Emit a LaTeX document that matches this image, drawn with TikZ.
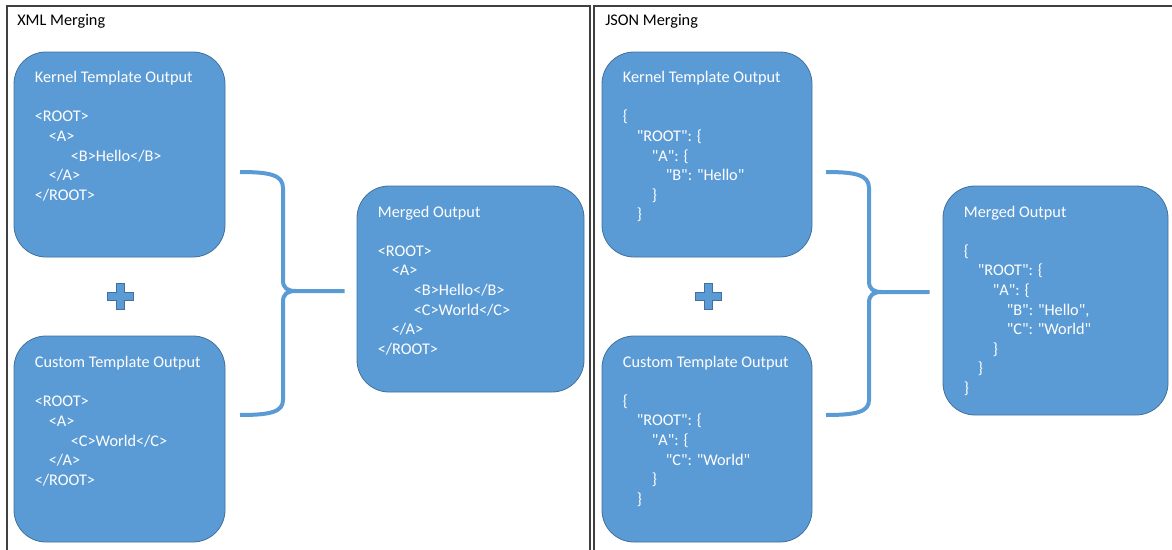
\documentclass[tikz,border=0pt]{standalone}
\usepackage{fontspec}
\setmainfont{Carlito}[Ligatures=TeXOff]
\usetikzlibrary{positioning}
\definecolor{boxblue}{HTML}{5B9BD5}
\definecolor{boxedge}{HTML}{41719C}

\begin{document}
\begin{tikzpicture}[x=0.75pt,y=-0.75pt,
  tbox/.style={draw=boxedge,fill=boxblue,rounded corners=24pt,line width=0.6pt},
  codetxt/.style={text=white,align=left,inner sep=0pt,anchor=north west,font=\fontsize{12.2}{14.7}\selectfont},
  paneltitle/.style={inner sep=0pt,anchor=base west,font=\fontsize{12.2}{14.7}\selectfont},
  frame/.style={draw=black!75,line width=1pt},
  brace/.style={draw=boxblue,line width=3pt},
  plus/.style={fill=boxblue,draw=boxedge,line width=0.5pt}]
\clip (0,0) rectangle (1172,550);
% panels
\draw[frame] (7,6) rectangle (590,570);
\draw[frame] (594,6) rectangle (1190,570);
\node[paneltitle] (xmltitle) at (17,25) {XML Merging};
\node[paneltitle] (jsontitle) at (605,25) {JSON Merging};

% XML side
\node[tbox,minimum width=158.25pt,minimum height=153.75pt] (kernxml) at (119.5,154.5) {};
\node[tbox,minimum width=158.25pt,minimum height=154.5pt] (custxml) at (119.5,439) {};
\node[tbox,minimum width=170.25pt,minimum height=154.5pt] (mergxml) at (470.5,289) {};
\node[codetxt] (kernxmltxt) at ([shift={(21,19.5)}]kernxml.north west) {Kernel Template Output\\[14.7pt]
  <ROOT>\\ \hspace*{10.5pt}<A>\\ \hspace*{27pt}<B>Hello</B>\\ \hspace*{10.5pt}</A>\\ </ROOT>};
\node[codetxt] (custxmltxt) at ([shift={(21,20.5)}]custxml.north west) {Custom Template Output\\[14.7pt]
  <ROOT>\\ \hspace*{10.5pt}<A>\\ \hspace*{27pt}<C>World</C>\\ \hspace*{10.5pt}</A>\\ </ROOT>};
\node[codetxt] (mergxmltxt) at ([shift={(21,20)}]mergxml.north west) {Merged Output\\[14.7pt]
  <ROOT>\\ \hspace*{10.5pt}<A>\\ \hspace*{27pt}<B>Hello</B>\\ \hspace*{27pt}<C>World</C>\\
  \hspace*{10.5pt}</A>\\ </ROOT>};

% JSON side
\node[tbox,minimum width=157.5pt,minimum height=153.75pt] (kernjson) at (707,154.5) {};
\node[tbox,minimum width=157.5pt,minimum height=154.5pt] (custjson) at (707,439) {};
\node[tbox,minimum width=168.75pt,minimum height=171.75pt] (mergjson) at (1055.5,300.5) {};
\node[codetxt] (kernjsontxt) at ([shift={(21,19.5)}]kernjson.north west) {Kernel Template Output\\[14.7pt]
  \{\\ \hspace*{10.5pt}"ROOT": \{\\ \hspace*{21.75pt}"A": \{\\ \hspace*{32.25pt}"B": "Hello"\\
  \hspace*{21.75pt}\}\\ \hspace*{10.5pt}\}};
\node[codetxt] (custjsontxt) at ([shift={(21,20)}]custjson.north west) {Custom Template Output\\[14.7pt]
  \{\\ \hspace*{10.5pt}"ROOT": \{\\ \hspace*{21.75pt}"A": \{\\ \hspace*{32.25pt}"C": "World"\\
  \hspace*{21.75pt}\}\\ \hspace*{10.5pt}\}};
\node[codetxt] (mergjsontxt) at ([shift={(21,20)}]mergjson.north west) {Merged Output\\[14.7pt]
  \{\\ \hspace*{10.5pt}"ROOT": \{\\ \hspace*{21.75pt}"A": \{\\ \hspace*{32.25pt}"B": "Hello",\\
  \hspace*{32.25pt}"C": "World"\\ \hspace*{21.75pt}\}\\ \hspace*{10.5pt}\}\\ \}};

% plus signs
\foreach \cx in {120,708}
  \draw[plus,shift={(\cx,296)}] (-4,-13) -- (4,-13) -- (4,-4) -- (13,-4) -- (13,4) -- (4,4)
    -- (4,13) -- (-4,13) -- (-4,4) -- (-13,4) -- (-13,-4) -- (-4,-4) -- cycle;

% braces
\coordinate (xtop) at (240,172);
\coordinate (xbot) at (240,415);
\coordinate (xtip) at ([xshift=-9pt]mergxml.west |- 0,291);
\draw[brace] (xtop) .. controls (270,172) and (283,175) .. (283,188) -- (283,280)
  .. controls (283,288) and (287,291) .. (296,291) -- (xtip);
\draw[brace] (xbot) .. controls (270,415) and (283,412) .. (283,400) -- (283,302)
  .. controls (283,294) and (287,291) .. (296,291);
\coordinate (jtop) at (826,172);
\coordinate (jbot) at (826,415);
\coordinate (jtip) at ([xshift=-9.75pt]mergjson.west |- 0,292);
\draw[brace] (jtop) .. controls (856,172) and (869,175) .. (869,188) -- (869,281)
  .. controls (869,289) and (873,292) .. (882,292) -- (jtip);
\draw[brace] (jbot) .. controls (856,415) and (869,412) .. (869,400) -- (869,303)
  .. controls (869,295) and (873,292) .. (882,292);
\end{tikzpicture}
\end{document}
